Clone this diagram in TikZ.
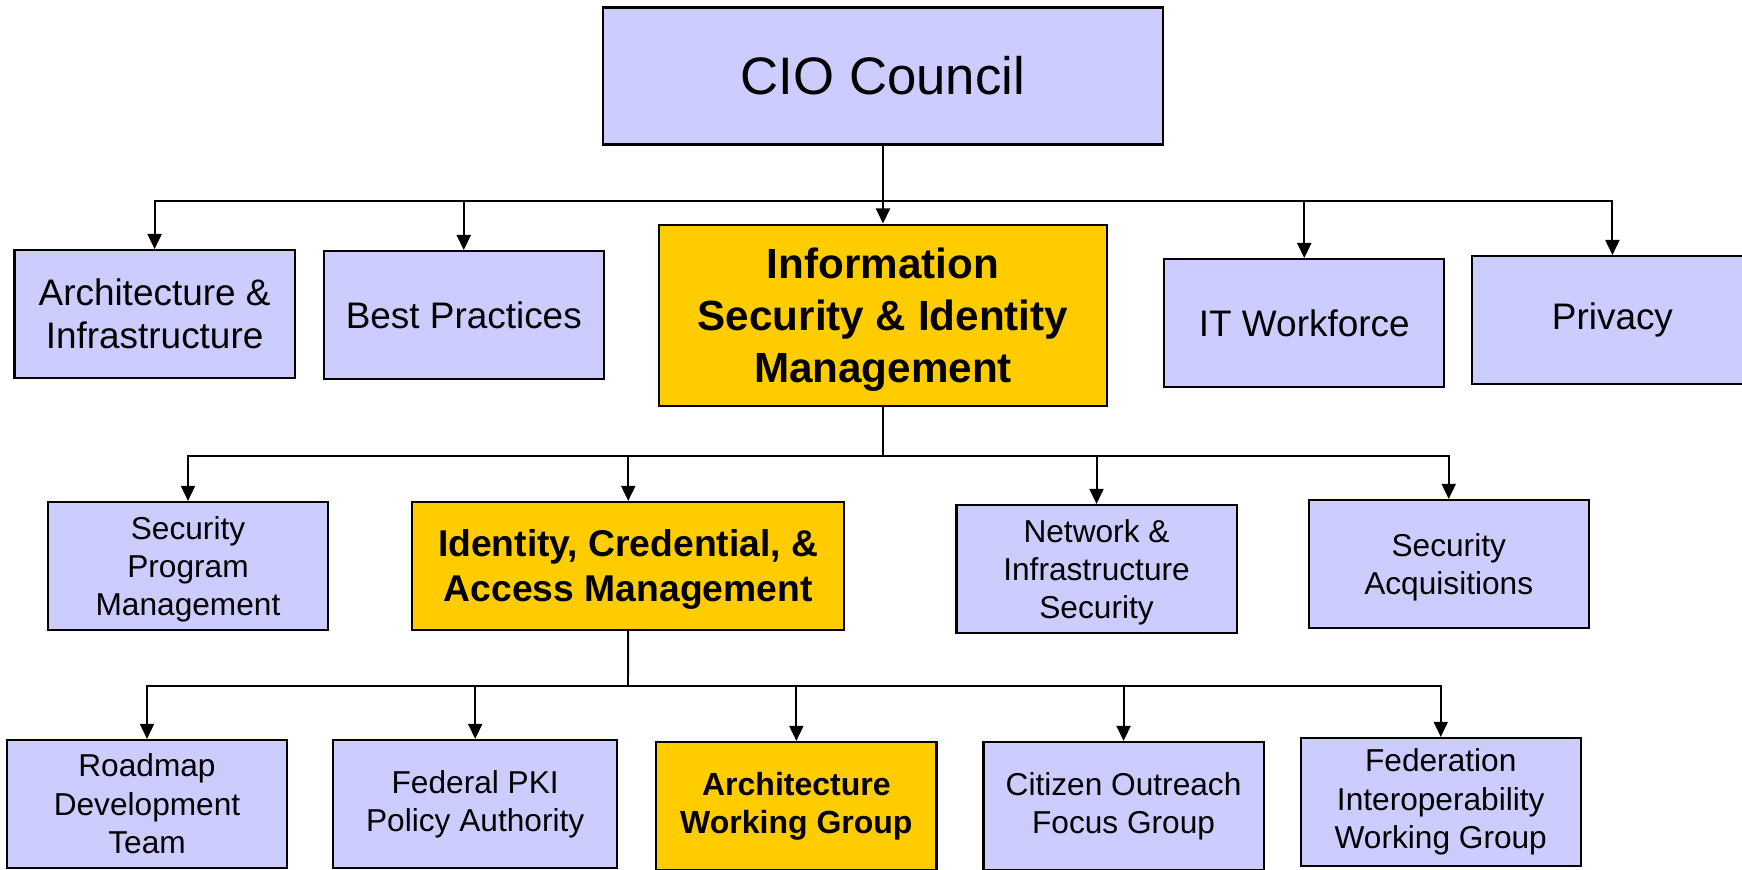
\documentclass[tikz,border=0pt]{standalone}
\usepackage{fontspec}
\setmainfont{Liberation Sans}
\usetikzlibrary{arrows.meta,positioning}
\definecolor{lavender}{HTML}{CCCCFF}
\definecolor{gold}{HTML}{FFCC00}
\tikzset{unit/.style={draw,line width=0.6pt,fill=lavender,align=center,inner sep=0pt,minimum width=2.8cm,minimum height=1.28cm}}
\tikzset{lead/.style={unit,fill=gold}}
\tikzset{big/.style={font=\fontsize{10.5}{12.2}\selectfont}}
\tikzset{small/.style={font=\fontsize{9}{10.9}\selectfont}}
\tikzset{bus/.style={draw,line width=0.55pt}}
\tikzset{link/.style={bus,-{Triangle[length=4.3pt,width=4pt]}}}

\begin{document}
\begin{tikzpicture}[x=0.01cm,y=-0.01cm]
    \useasboundingbox (0,0) rectangle (1742,869);

    \node[unit,minimum width=5.6cm,minimum height=1.37cm,font=\fontsize{15}{18}\selectfont] (cio) at (883,76) {CIO Council};

    % first row
    \node[lead,below of=cio,node distance=2.39cm,minimum width=4.47cm,minimum height=1.81cm,font=\bfseries\fontsize{12}{14.8}\selectfont,text depth=-0.03cm] (isim) {Information\\Security \& Identity\\Management};
    \node[unit,big,left of=isim,node distance=4.19cm] (best) {Best Practices};
    \node[unit,big,left of=best,node distance=3.09cm,yshift=0.01cm] (arch) {Architecture \&\\Infrastructure};
    \node[unit,big,right of=isim,node distance=4.21cm,yshift=-0.08cm] (itw) {IT Workforce};
    \node[unit,big,right of=itw,node distance=3.08cm,yshift=0.03cm] (privacy) {Privacy};

    % second row
    \node[unit,small,text depth=-0.02cm] (spm) at (188,566) {Security\\Program\\Management};
    \node[lead,right of=spm,node distance=4.40cm,minimum width=4.32cm,font=\bfseries\fontsize{10.6}{12.6}\selectfont,text depth=0.01cm] (icam) {Identity, Credential, \&\\Access Management};
    \node[unit,small,right of=icam,node distance=4.68cm,yshift=-0.03cm,text depth=-0.02cm] (nis) {Network \&\\Infrastructure\\Security};
    \node[unit,small,right of=nis,node distance=3.52cm,yshift=0.05cm,text depth=-0.02cm] (acq) {Security\\Acquisitions};

    % third row
    \node[unit,small] (roadmap) at (147,804) {Roadmap\\Development\\Team};
    \node[unit,small,right of=roadmap,node distance=3.28cm,minimum width=2.84cm] (fpki) {Federal PKI\\Policy Authority};
    \node[lead,right of=fpki,node distance=3.21cm,yshift=-0.02cm,font=\bfseries\fontsize{9.1}{10.9}\selectfont] (awg) {Architecture\\Working Group};
    \node[unit,small,right of=awg,node distance=3.27cm] (cofg) {Citizen Outreach\\Focus Group};
    \node[unit,small,right of=cofg,node distance=3.17cm,yshift=0.04cm] (fiwg) {Federation\\Interoperability\\Working Group};

    \coordinate (hub1) at (883,201);
    \coordinate (hub2) at (883,456);
    \coordinate (hub3) at (628,686);

        \path[link] (cio) -- (isim);
        \path[link] (hub1) -| (arch);
        \path[link] (hub1) -| (best);
        \path[link] (hub1) -| (itw);
        \path[link] (hub1) -| (privacy);
        \path[bus] (isim) -- (hub2);
        \path[link] (hub2) -| (spm);
        \path[link] (hub2) -| (icam);
        \path[link] (hub2) -| (nis);
        \path[link] (hub2) -| (acq);
        \path[bus] (icam) -- (hub3);
        \path[link] (hub3) -| (roadmap);
        \path[link] (hub3) -| (fpki);
        \path[link] (hub3) -| (awg);
        \path[link] (hub3) -| (cofg);
        \path[link] (hub3) -| (fiwg);
\end{tikzpicture}
\end{document}
